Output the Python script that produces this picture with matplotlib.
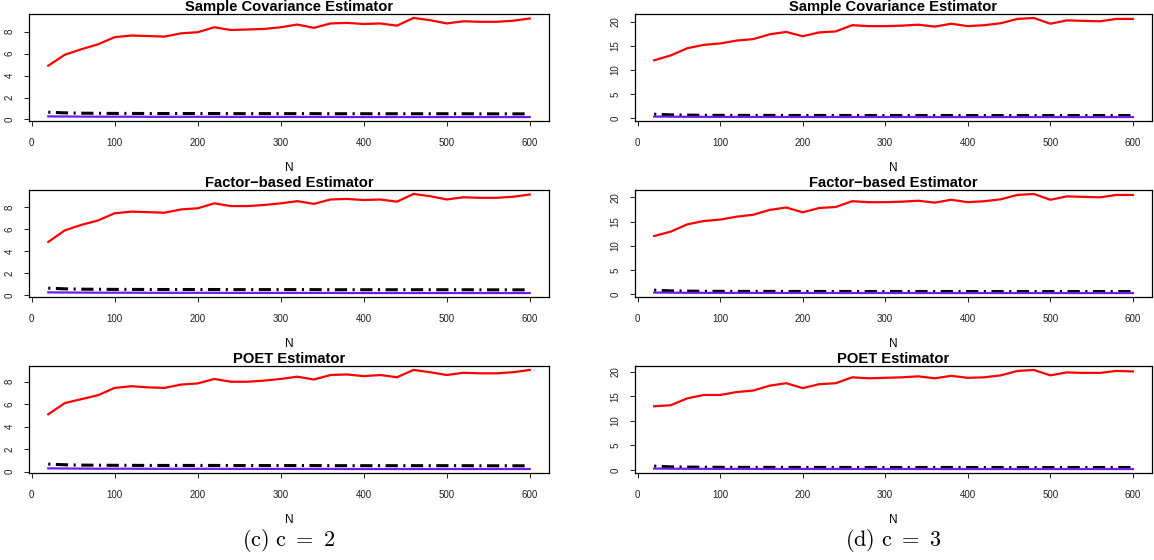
import numpy as np
import matplotlib
matplotlib.use("Agg")
import matplotlib.pyplot as plt

plt.rcParams['font.family'] = ['Liberation Sans', 'DejaVu Sans']
plt.rcParams['mathtext.fontset'] = 'cm'

N = [20, 40, 60, 80, 100, 120, 140, 160, 180, 200, 220, 240, 260, 280, 300,
     320, 340, 360, 380, 400, 420, 440, 460, 480, 500, 520, 540, 560, 580, 600]

titles = ["Sample Covariance Estimator", "Factor\u2212based Estimator", "POET Estimator"]

# c = 2 (left column), red curves
sample_c2 = [4.9, 5.9, 6.4, 6.85, 7.5, 7.65, 7.6, 7.55, 7.85, 7.95, 8.4, 8.15, 8.2, 8.25, 8.4,
             8.65, 8.35, 8.75, 8.8, 8.7, 8.75, 8.55, 9.25, 9.05, 8.75, 8.95, 8.9, 8.9, 9.0, 9.2]
factor_c2 = [4.85, 5.9, 6.4, 6.8, 7.45, 7.6, 7.55, 7.5, 7.8, 7.9, 8.35, 8.1, 8.1, 8.2, 8.35,
             8.55, 8.3, 8.7, 8.75, 8.65, 8.7, 8.5, 9.2, 9.0, 8.7, 8.9, 8.85, 8.85, 8.95, 9.15]
poet_c2 = [5.1, 6.1, 6.45, 6.8, 7.45, 7.6, 7.5, 7.45, 7.75, 7.85, 8.25, 8.0, 8.0, 8.1, 8.25,
           8.45, 8.2, 8.6, 8.65, 8.5, 8.6, 8.4, 9.05, 8.85, 8.6, 8.8, 8.75, 8.75, 8.85, 9.05]
black_c2 = [0.66, 0.6, 0.57, 0.56, 0.55, 0.55, 0.54, 0.54, 0.54, 0.54, 0.54, 0.53, 0.53, 0.53, 0.53,
            0.53, 0.53, 0.52, 0.52, 0.52, 0.52, 0.52, 0.52, 0.52, 0.52, 0.52, 0.51, 0.51, 0.51, 0.51]
blue_c2 = [0.28, 0.27, 0.26, 0.25, 0.25, 0.25, 0.24, 0.24, 0.24, 0.24, 0.24, 0.23, 0.23, 0.23, 0.23,
           0.23, 0.23, 0.23, 0.22, 0.22, 0.22, 0.22, 0.22, 0.22, 0.22, 0.22, 0.22, 0.22, 0.22, 0.22]

# c = 3 (right column)
sample_c3 = [12.0, 13.0, 14.5, 15.2, 15.5, 16.1, 16.4, 17.4, 17.9, 17.0, 17.8, 18.0, 19.3, 19.1, 19.1,
             19.2, 19.4, 19.0, 19.6, 19.1, 19.3, 19.7, 20.6, 20.8, 19.6, 20.3, 20.2, 20.1, 20.6, 20.6]
factor_c3 = [12.0, 12.9, 14.4, 15.1, 15.4, 16.0, 16.4, 17.4, 17.9, 16.9, 17.8, 18.0, 19.2, 19.0, 19.0,
             19.1, 19.3, 18.9, 19.5, 19.0, 19.2, 19.6, 20.5, 20.7, 19.5, 20.2, 20.1, 20.0, 20.5, 20.5]
poet_c3 = [13.0, 13.2, 14.6, 15.3, 15.3, 15.9, 16.2, 17.2, 17.7, 16.7, 17.5, 17.7, 18.9, 18.7, 18.8,
           18.9, 19.1, 18.7, 19.2, 18.8, 18.9, 19.3, 20.2, 20.4, 19.3, 19.9, 19.8, 19.8, 20.2, 20.1]
black_c3 = [0.8, 0.65, 0.6, 0.57, 0.55, 0.55, 0.54, 0.54, 0.53, 0.53, 0.53, 0.53, 0.52, 0.52, 0.52,
            0.52, 0.52, 0.52, 0.52, 0.51, 0.51, 0.51, 0.51, 0.51, 0.51, 0.51, 0.51, 0.51, 0.51, 0.51]
blue_c3 = [0.3, 0.27, 0.25, 0.24, 0.23, 0.23, 0.22, 0.22, 0.22, 0.22, 0.21, 0.21, 0.21, 0.21, 0.21,
           0.21, 0.21, 0.2, 0.2, 0.2, 0.2, 0.2, 0.2, 0.2, 0.2, 0.2, 0.2, 0.2, 0.2, 0.2]

columns = [
    dict(red=[sample_c2, factor_c2, poet_c2], black=black_c2, blue=blue_c2,
         yticks=[0, 2, 4, 6, 8], x0=29, x1=549, caption=r"$\mathrm{(c)\ c\ =\ 2}$"),
    dict(red=[sample_c3, factor_c3, poet_c3], black=black_c3, blue=blue_c3,
         yticks=[0, 5, 10, 15, 20], x0=635, x1=1152, caption=r"$\mathrm{(d)\ c\ =\ 3}$"),
]

W, H = 1154, 560
fig = plt.figure(figsize=(W / 100, H / 100), dpi=100)

tops = [14, 190, 366]
box_h = 107

for col in columns:
    for i, top in enumerate(tops):
        ax = fig.add_axes([col['x0'] / W, 1 - (top + box_h) / H,
                           (col['x1'] - col['x0']) / W, box_h / H])
        red = col['red'][i]
        ax.plot(N, red, color='#ff0000', lw=1.6)
        ax.plot(N, col['black'], color='black', lw=2.2, linestyle=(0, (0.7, 1.8, 4.0, 1.8)))
        ax.plot(N, col['blue'], color='#6a1cf6', lw=1.6)
        lo = min(min(red), min(col['blue']))
        hi = max(red)
        pad = 0.04 * (hi - lo)
        ax.set_ylim(lo - pad, hi + pad)
        ax.set_xlim(20 - 0.04 * 580, 600 + 0.04 * 580)
        ax.set_xticks([0, 100, 200, 300, 400, 500, 600])
        ax.set_yticks(col['yticks'])
        ax.tick_params(labelsize=7, length=3.5, width=0.7, colors='#222222')
        ax.tick_params(axis='x', pad=8.5)
        ax.tick_params(axis='y', pad=7)
        for lab in ax.get_yticklabels():
            lab.set_rotation(90)
            lab.set_va('center')
        for s in ax.spines.values():
            s.set_linewidth(0.9)
        ax.set_title(titles[i], fontsize=10.6, fontweight='bold', pad=2)
        ax.set_xlabel("N", fontsize=8.5, labelpad=10)
    cx = (col['x0'] + col['x1']) / 2 / W
    fig.text(cx, 1 - 540 / H, col['caption'], ha='center', va='center', fontsize=16)

fig.savefig("out.png", dpi=100)
